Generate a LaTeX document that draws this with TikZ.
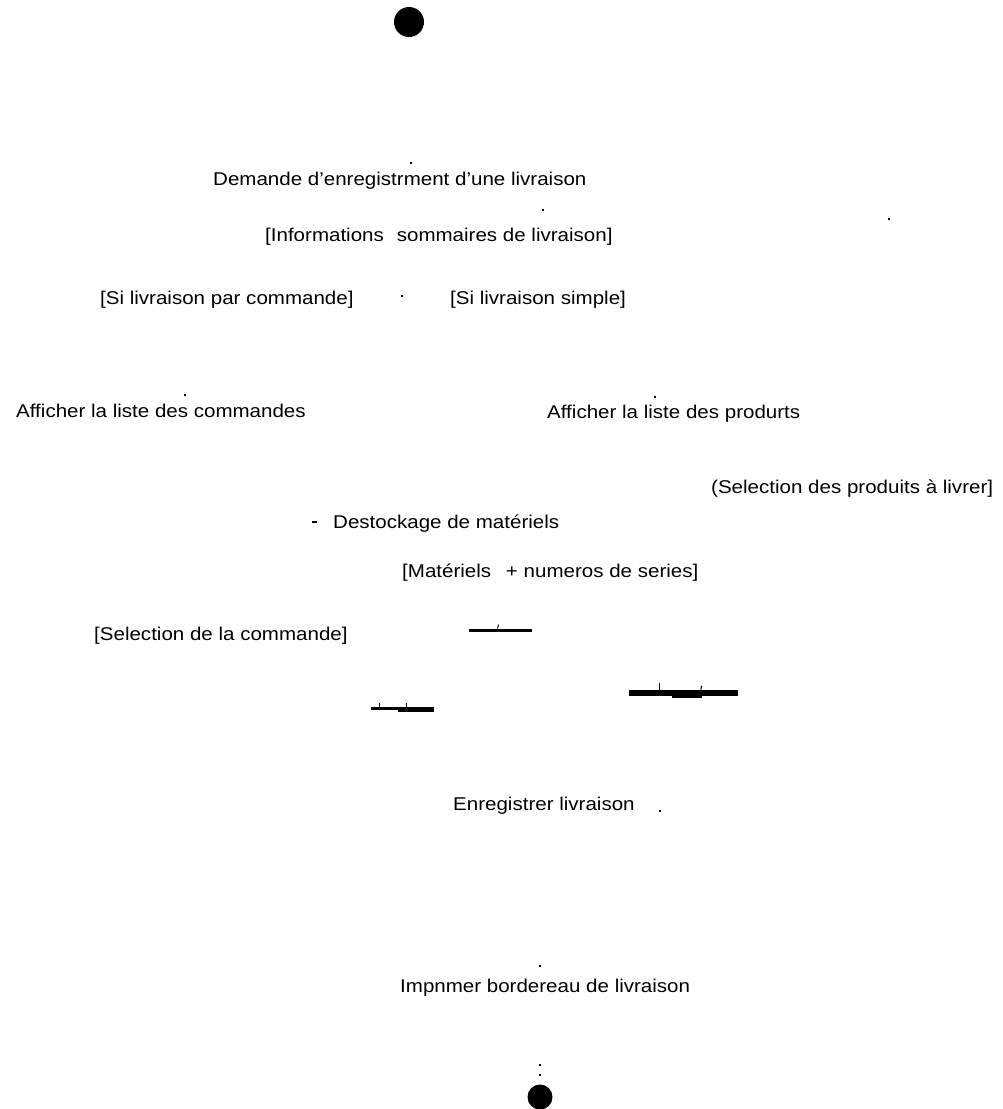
\documentclass[tikz,border=0pt]{standalone}
\usepackage{fontspec}
\setmainfont{Liberation Sans}[FakeStretch=1.11]
\begin{document}
\begin{tikzpicture}[x=1pt,y=-1pt,
  lbl/.style={anchor=west, inner sep=0pt, font=\fontsize{18.5}{20}\selectfont},
  dotnode/.style={circle, fill=black, inner sep=0pt},
  barnode/.style={fill=black, inner sep=0pt, minimum height=4pt},
  speck/.style={fill=black, inner sep=0pt, minimum width=1.5pt, minimum height=2pt}]
\useasboundingbox (0,0) rectangle (1002,1109);

% initial and final states
\node[dotnode, minimum size=30pt] (start) at (409,22) {};
\node[dotnode, minimum size=25pt] (stop) at (540,1097) {};

% activities and guards
\node[lbl] (demande) at (213,181) {Demande d'enregistrment d'une livraison};
\node[lbl] (infos) at (265,237) {[Informations\hspace{0.7em}sommaires de livraison]};
\node[lbl] (sicmd) at (100,300) {[Si livraison par commande]};
\node[lbl] (sisimple) at (450,300) {[Si livraison simple]};
\node[lbl] (listecmd) at (16,411) {Afficher la liste des commandes};
\node[lbl] (listeprod) at (547,414) {Afficher la liste des produrts};
\node[lbl] (selprod) at (711,489) {(Selection des produits à livrer]};
\node[lbl] (destock) at (333,524) {Destockage de matériels};
\node[lbl] (materiels) at (402,573) {[Matériels\hspace{0.8em}+ numeros de series]};
\node[lbl] (selcmd) at (94,636) {[Selection de la commande]};
\node[lbl] (enreg) at (453,806) {Enregistrer livraison};
\node[lbl] (imprimer) at (400,988) {Impnmer bordereau de livraison};

% synchronisation bars
\node[barnode, minimum width=63pt, minimum height=3.5pt] (bar1) at (500.5,630.5) {};
\node[barnode, minimum width=63pt, minimum height=3.5pt] (bar2) at (402.5,708.5) {};
\node[barnode, minimum width=36pt, minimum height=5pt] (bar2b) at (416,709) {};
\node[barnode, minimum width=109pt, minimum height=6pt] (bar3) at (683.5,693) {};
\node[barnode, minimum width=30pt] (bar3b) at (687,696) {};

% stubs of the flow lines
\draw[line width=1pt] (bar1.north) ++(-3,0) -- ++(1,-4);
\draw[line width=1pt] (bar2.north west) ++(9,0) -- ++(0,-4);
\draw[line width=1pt] (bar2.north west) ++(36,0) -- ++(0,-4);
\draw[line width=1pt] (bar3.north west) ++(31,0) -- ++(0,-7);
\draw[line width=1pt] (bar3.north west) ++(72,0) -- ++(1,-4);

\node[speck] (s1) at (411,163) {};
\node[speck] (s2) at (543,210) {};
\node[speck] (s3) at (889,219) {};
\node[speck] (s4) at (402,296) {};
\node[speck] (s5) at (185,395) {};
\node[speck] (s6) at (655,397) {};
\node[speck, minimum width=5pt, minimum height=1.5pt] (s7) at (314,522) {};
\node[speck] (s8) at (660,811) {};
\node[speck] (s9) at (540,966) {};
\node[speck] (s10) at (540,1065) {};
\node[speck] (s11) at (540,1075) {};
\end{tikzpicture}
\end{document}
